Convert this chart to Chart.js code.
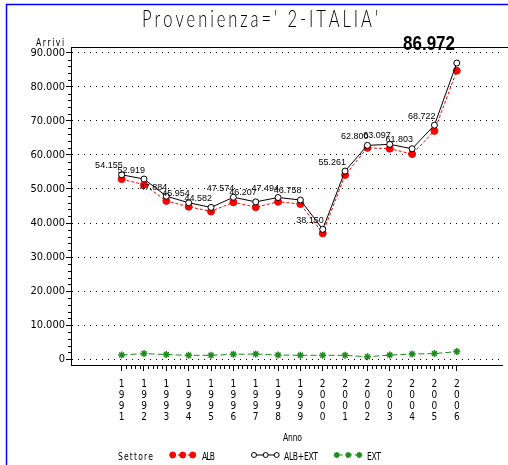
<!DOCTYPE html>
<html>
<head>
<meta charset="utf-8">
<script src="https://cdn.jsdelivr.net/npm/chart.js@4"></script>
<style>
  html, body { margin: 0; padding: 0; background: #fff; }
  canvas { display: block; }
</style>
</head>
<body>
<canvas id="chart1" width="508" height="465"></canvas>
<script>
// data
const years = [1991, 1992, 1993, 1994, 1995, 1996, 1997, 1998, 1999, 2000, 2001, 2002, 2003, 2004, 2005, 2006];
const albExt = [54155, 52919, 47884, 45954, 44582, 47574, 46207, 47494, 46758, 38150, 55261, 62800, 63097, 61803, 68722, 86972];
const alb = [52900, 51250, 46500, 44780, 43410, 46100, 44660, 46230, 45590, 36980, 54090, 62070, 61840, 60250, 67050, 84710];
const ext = [1260, 1670, 1380, 1170, 1170, 1470, 1550, 1260, 1170, 1170, 1170, 730, 1260, 1550, 1670, 2260];
const yTicks = [0, 10000, 20000, 30000, 40000, 50000, 60000, 70000, 80000, 90000];

const NARROW = '"Liberation Sans Narrow", "DejaVu Sans Condensed", sans-serif';
const THIN = '"DejaVu Sans ExtraLight", "Lato Light", Lato, "DejaVu Sans", sans-serif';

// 54155 -> "54.155"
function fmt(v) {
  return String(v).replace(/\B(?=(\d{3})+(?!\d))/g, '.');
}

// draw text spread between x0 and x1 (SAS fonts are spaced out), glyphs squeezed by sx
function spread(ctx, text, x0, x1, y, font, sx) {
  sx = sx || 1;
  ctx.font = font;
  const chars = text.split('');
  const widths = chars.map(c => ctx.measureText(c).width * sx);
  const total = widths.reduce((a, b) => a + b, 0);
  const gap = chars.length > 1 ? (x1 - x0 - total) / (chars.length - 1) : 0;
  let x = x0;
  ctx.textAlign = 'left';
  ctx.textBaseline = 'alphabetic';
  chars.forEach((c, i) => {
    ctx.save();
    ctx.translate(x, y);
    ctx.scale(sx, 1);
    ctx.fillText(c, 0, 0);
    ctx.restore();
    x += widths[i] + gap;
  });
}

const pts = (xs, ys) => xs.map((x, i) => ({ x: x, y: ys[i] }));

const decor = {
  id: 'decor',
  beforeDraw(chart) {
    const ctx = chart.ctx;
    ctx.save();
    ctx.fillStyle = '#fff';
    ctx.fillRect(0, 0, chart.width, chart.height);
    ctx.restore();
  },
  afterDraw(chart) {
    const ctx = chart.ctx;
    const area = chart.chartArea;
    const xs = chart.scales.x;
    const ys = chart.scales.y;
    ctx.save();

    // blue frame
    ctx.strokeStyle = '#0000ff';
    ctx.lineWidth = 1.5;
    ctx.beginPath();
    ctx.moveTo(6.5, chart.height);
    ctx.lineTo(6.5, 4.5);
    ctx.lineTo(chart.width, 4.5);
    ctx.stroke();

    // top line of the plot box
    ctx.strokeStyle = '#000000';
    ctx.lineWidth = 1.2;
    ctx.setLineDash([]);
    ctx.beginPath();
    ctx.moveTo(71, 47.5);
    ctx.lineTo(508, 47.5);
    ctx.stroke();

    // minor ticks
    ctx.lineWidth = 1;
    ctx.beginPath();
    for (let v = 0; v <= 90000; v += 2000) {
      if (v % 10000 === 0) continue;
      const y = Math.round(ys.getPixelForValue(v)) + 0.5;
      ctx.moveTo(area.left - 3, y);
      ctx.lineTo(area.left, y);
    }
    for (let i = 0; i < years.length - 1; i++) {
      for (let k = 1; k < 5; k++) {
        const x = Math.round(xs.getPixelForValue(years[i] + k / 5)) + 0.5;
        ctx.moveTo(x, area.bottom);
        ctx.lineTo(x, area.bottom + 4);
      }
    }
    ctx.stroke();

    // point labels for ALB+EXT
    ctx.fillStyle = '#000';
    const meta = chart.getDatasetMeta(0);
    meta.data.forEach((p, i) => {
      if (i === albExt.length - 1) {
        // last value is printed big at the top
        const txt = fmt(albExt[i]);
        ctx.font = 'bold 21px "Liberation Sans", Arial, sans-serif';
        const w = ctx.measureText(txt).width;
        ctx.save();
        ctx.translate(403, 50);
        ctx.scale(52 / w, 1);
        ctx.textAlign = 'left';
        ctx.textBaseline = 'alphabetic';
        ctx.fillText(txt, 0, 0);
        ctx.restore();
        return;
      }
      ctx.font = '9px "Liberation Sans", Arial, sans-serif';
      ctx.textAlign = 'right';
      ctx.textBaseline = 'middle';
      ctx.fillText(fmt(albExt[i]), p.x + 1, p.y - 9);
    });

    // titles
    spread(ctx, "Provenienza=' 2-ITALIA'", 142, 378, 27, '200 23px ' + THIN, 0.72);
    spread(ctx, 'Arrivi', 36, 64, 46, '10px ' + NARROW, 0.85);
    spread(ctx, 'Anno', 283, 302, 441, '10px ' + NARROW, 0.85);

    // legend
    const ly = 455;
    spread(ctx, 'Settore', 118, 153, 460, '10px ' + NARROW, 0.85);
    const items = [
      { ds: chart.data.datasets[1], xs: [172.7, 182.7, 192.7], label: 'ALB', t0: 202, t1: 215 },
      { ds: chart.data.datasets[0], xs: [254, 265.7, 276.7], label: 'ALB+EXT', t0: 284, t1: 318 },
      { ds: chart.data.datasets[2], xs: [336.7, 348.3, 359.3], label: 'EXT', t0: 367, t1: 381 }
    ];
    items.forEach(it => {
      ctx.save();
      ctx.strokeStyle = it.ds.borderColor;
      ctx.lineWidth = 1;
      ctx.setLineDash(it.ds.borderDash || []);
      ctx.beginPath();
      ctx.moveTo(it.xs[0], ly);
      ctx.lineTo(it.xs[2], ly);
      ctx.stroke();
      ctx.restore();
      it.xs.forEach(x => {
        ctx.save();
        ctx.strokeStyle = it.ds.pointBorderColor;
        ctx.fillStyle = it.ds.pointBackgroundColor;
        ctx.lineWidth = it.ds.pointBorderWidth;
        Chart.helpers.drawPoint(ctx, { pointStyle: it.ds.pointStyle, radius: it.ds.pointRadius - 0.5, rotation: 0, borderWidth: it.ds.pointBorderWidth }, x, ly);
        ctx.restore();
      });
      ctx.fillStyle = '#000';
      spread(ctx, it.label, it.t0, it.t1, 460, '10px ' + NARROW, 0.85);
    });

    ctx.restore();
  }
};

const ctx = document.getElementById('chart1').getContext('2d');

new Chart(ctx, {
  type: 'line',
  data: {
    datasets: [
      {
        label: 'ALB+EXT',
        data: pts(years, albExt),
        borderColor: '#000',
        borderWidth: 1,
        pointStyle: 'circle',
        pointRadius: 3,
        pointBorderWidth: 1,
        pointBorderColor: '#000',
        pointBackgroundColor: '#fff',
        tension: 0
      },
      {
        label: 'ALB',
        data: pts(years, alb),
        borderColor: '#ff0000',
        borderWidth: 1,
        borderDash: [3, 2],
        pointStyle: 'circle',
        pointRadius: 3.5,
        pointBorderWidth: 1,
        pointBorderColor: '#ff0000',
        pointBackgroundColor: '#ff0000',
        tension: 0
      },
      {
        label: 'EXT',
        data: pts(years, ext),
        borderColor: '#1e8c1e',
        borderWidth: 1,
        borderDash: [6, 3],
        pointStyle: 'star',
        pointRadius: 3.5,
        pointBorderWidth: 1.5,
        pointBorderColor: '#1e8c1e',
        pointBackgroundColor: '#1e8c1e',
        tension: 0
      }
    ]
  },
  options: {
    responsive: false,
    animation: false,
    layout: { padding: { top: 47, left: 0, right: 0, bottom: 0 } },
    plugins: {
      legend: { display: false },
      title: { display: false },
      tooltip: { enabled: false }
    },
    scales: {
      x: {
        type: 'linear',
        min: 1988.733,
        max: 2008.046,
        afterBuildTicks: s => { s.ticks = years.map(v => ({ value: v })); },
        afterFit: s => { s.height = 100; },
        grid: { drawOnChartArea: false, drawTicks: true, tickLength: 6, color: '#000' },
        border: { display: true, color: '#000', width: 1 },
        ticks: {
          autoSkip: false,
          maxRotation: 0,
          minRotation: 0,
          padding: 8,
          color: '#000',
          font: { family: NARROW, size: 10, lineHeight: 1.11 },
          callback: v => String(v).split('')
        }
      },
      y: {
        min: -1673,
        max: 91673,
        afterBuildTicks: s => { s.ticks = yTicks.map(v => ({ value: v })); },
        afterFit: s => { s.width = 71; },
        grid: { drawOnChartArea: true, drawTicks: true, tickLength: 5, color: '#000', lineWidth: 1 },
        border: { display: true, color: '#000', width: 1, dash: [1, 5] },
        ticks: {
          padding: 1,
          color: '#000',
          font: { family: NARROW, size: 11 },
          callback: v => fmt(v)
        }
      }
    }
  },
  plugins: [decor]
});
</script>
</body>
</html>
